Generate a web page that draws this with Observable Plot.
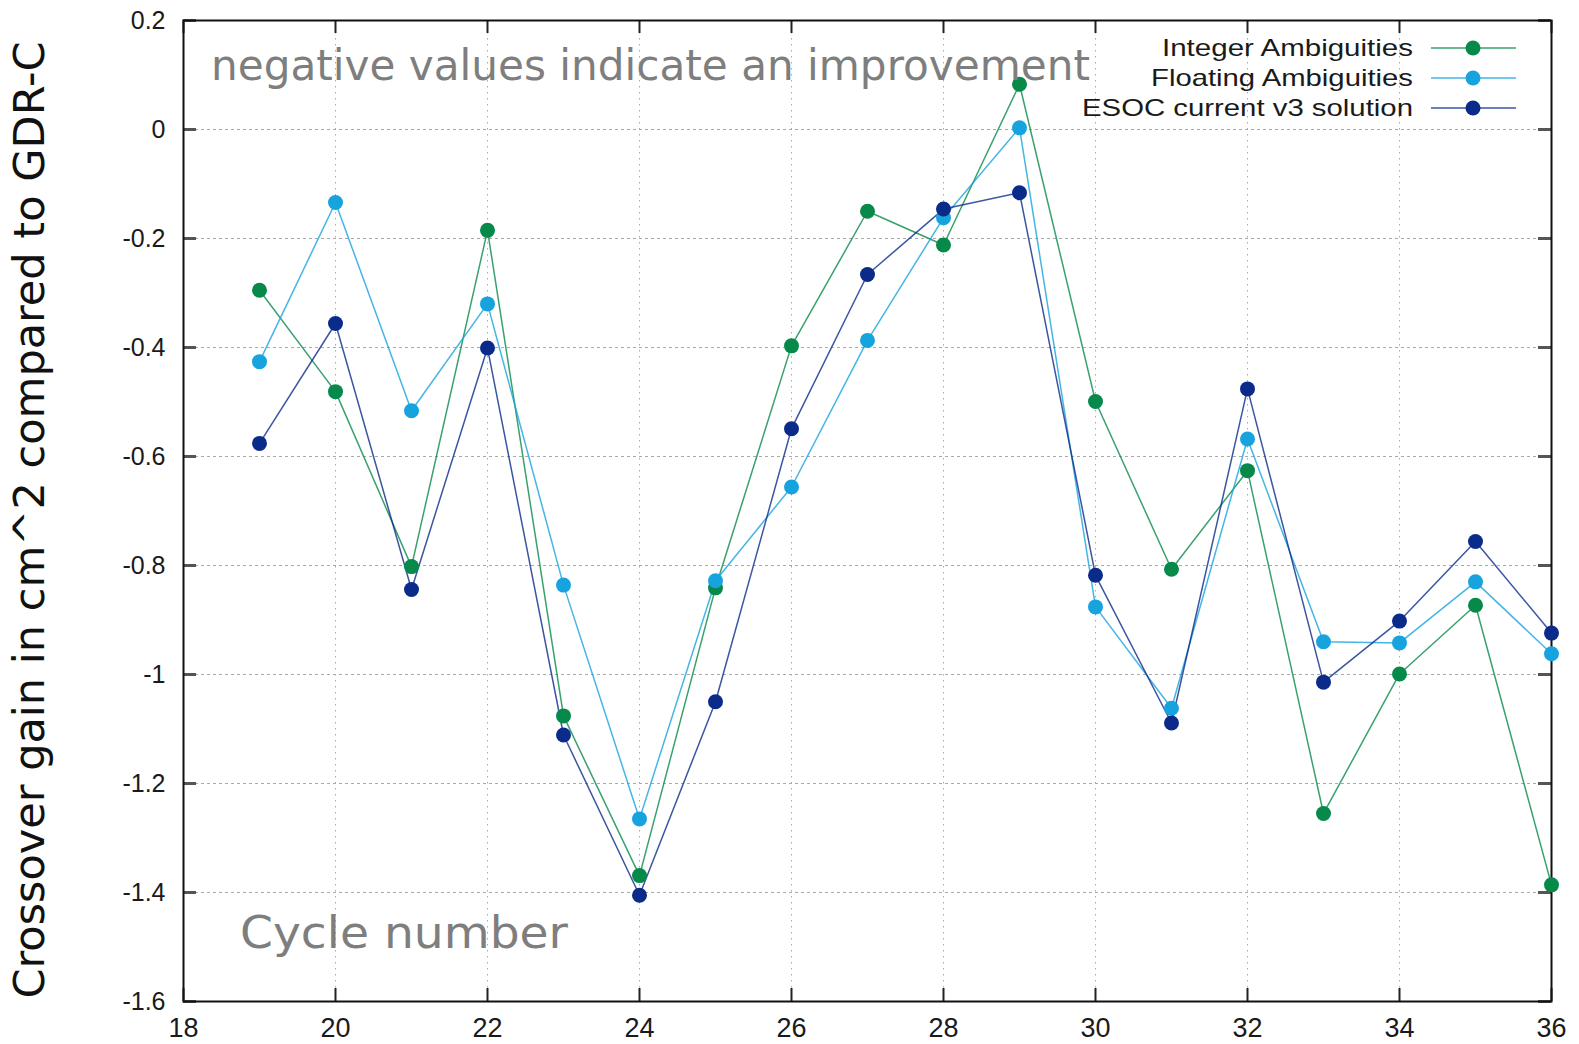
<!DOCTYPE html>
<html>
<head>
<meta charset="utf-8">
<script src="https://cdn.jsdelivr.net/npm/d3@7"></script>
<script src="https://cdn.jsdelivr.net/npm/@observablehq/plot@0.6"></script>
<style>
  html, body { margin: 0; padding: 0; background: #fff; }
  #chart { width: 1579px; height: 1044px; }
</style>
</head>
<body>
<div id="chart"></div>
<script>
// Crossover gain per cycle (cm^2) relative to GDR-C
const cycles = [19, 20, 21, 22, 23, 24, 25, 26, 27, 28, 29, 30, 31, 32, 33, 34, 35, 36];
const integerAmb  = [-0.295, -0.481, -0.802, -0.185, -1.076, -1.369, -0.841, -0.397, -0.150, -0.212, 0.083, -0.499, -0.807, -0.626, -1.255, -0.999, -0.873, -1.386];
const floatingAmb = [-0.426, -0.134, -0.516, -0.320, -0.836, -1.265, -0.828, -0.656, -0.387, -0.162, 0.003, -0.876, -1.062, -0.568, -0.940, -0.942, -0.830, -0.962];
const esocV3      = [-0.576, -0.356, -0.844, -0.401, -1.111, -1.405, -1.050, -0.549, -0.266, -0.146, -0.116, -0.818, -1.089, -0.476, -1.014, -0.902, -0.756, -0.924];

const xTicks = [18, 20, 22, 24, 26, 28, 30, 32, 34, 36];
const yTicks = [0.2, 0, -0.2, -0.4, -0.6, -0.8, -1, -1.2, -1.4, -1.6];
const yTickLabels = ["0.2", "0", "-0.2", "-0.4", "-0.6", "-0.8", "-1", "-1.2", "-1.4", "-1.6"];

const seriesNames  = ["Integer Ambiguities", "Floating Ambiguities", "ESOC current v3 solution"];
const seriesColors = ["#07894a", "#17a3de", "#0a2b8a"];

const rows = [];
[integerAmb, floatingAmb, esocV3].forEach((vals, s) =>
  vals.forEach((v, i) => rows.push({ series: seriesNames[s], cycle: cycles[i], gain: v }))
);

const W = 1579, H = 1044;
const mL = 183, mR = 28, mT = 20, mB = 43;
const innerW = W - mL - mR, innerH = H - mT - mB;
const tickLen = 13;
const dotR = 7.5;

const chart = Plot.plot({
  width: W, height: H,
  marginLeft: mL, marginRight: mR, marginTop: mT, marginBottom: mB,
  style: { fontFamily: "'Liberation Sans', Arial, sans-serif", background: "#fff", color: "#1a1a1a" },
  x: { domain: [18, 36] },
  y: { domain: [-1.6, 0.2] },
  color: { domain: seriesNames, range: seriesColors },
  marks: [
    Plot.gridY(yTicks, { stroke: "#a9a9a9", strokeOpacity: 1, strokeDasharray: "3,3" }),
    Plot.gridX(xTicks, { stroke: "#a9a9a9", strokeOpacity: 1, strokeDasharray: "1.5,4.5" }),
    // inward tick marks on all four sides
    Plot.ruleX(xTicks, { insetTop: innerH - tickLen, stroke: "#222", strokeWidth: 2 }),
    Plot.ruleX(xTicks, { insetBottom: innerH - tickLen, stroke: "#222", strokeWidth: 2 }),
    Plot.ruleY(yTicks, { insetRight: innerW - tickLen, stroke: "#555", strokeWidth: 3 }),
    Plot.ruleY(yTicks, { insetLeft: innerW - tickLen, stroke: "#555", strokeWidth: 3 }),
    Plot.frame({ stroke: "#111", strokeWidth: 2 }),
    Plot.axisX(xTicks, { tickSize: 0, tickPadding: 16, fontSize: 27, label: null, tickFormat: d => String(d) }),
    Plot.axisY(yTicks, {
      tickSize: 0, tickPadding: 18, fontSize: 25, label: null,
      tickFormat: d => yTickLabels[yTicks.findIndex(t => Math.abs(t - d) < 1e-9)]
    }),
    Plot.line(rows, { x: "cycle", y: "gain", z: "series", stroke: "series", strokeWidth: 1.5, strokeOpacity: 0.8 }),
    Plot.dot(rows, { x: "cycle", y: "gain", fill: "series", r: dotR })
  ]
});

const svg = d3.select(chart);

// vertical axis title
svg.append("text")
  .attr("transform", "translate(44,520) rotate(-90)")
  .attr("text-anchor", "middle")
  .attr("font-family", "'DejaVu Sans', sans-serif")
  .attr("font-size", 42)
  .attr("fill", "#111")
  .attr("textLength", 957)
  .attr("lengthAdjust", "spacingAndGlyphs")
  .text("Crossover gain in cm^2 compared to GDR-C");

// in-plot notes
svg.append("text")
  .attr("x", 211).attr("y", 80)
  .attr("text-anchor", "start")
  .attr("font-family", "'DejaVu Sans', sans-serif")
  .attr("font-size", 43)
  .attr("fill", "#7e7e7e")
  .attr("textLength", 879)
  .attr("lengthAdjust", "spacingAndGlyphs")
  .text("negative values indicate an improvement");

svg.append("text")
  .attr("x", 240).attr("y", 948)
  .attr("text-anchor", "start")
  .attr("font-family", "'DejaVu Sans', sans-serif")
  .attr("font-size", 45)
  .attr("fill", "#7e7e7e")
  .attr("textLength", 328)
  .attr("lengthAdjust", "spacingAndGlyphs")
  .text("Cycle number");

// key, top right
const legendWidths = [251, 262, 331];
const key = svg.append("g").attr("font-family", "'Liberation Sans', Arial, sans-serif").attr("font-size", 24);
seriesNames.forEach((name, i) => {
  const cy = 48 + i * 30;
  key.append("text")
    .attr("x", 1413).attr("y", cy + 8)
    .attr("text-anchor", "end")
    .attr("fill", "#1a1a1a")
    .attr("textLength", legendWidths[i])
    .attr("lengthAdjust", "spacingAndGlyphs")
    .text(name);
  key.append("line")
    .attr("x1", 1431).attr("x2", 1516).attr("y1", cy).attr("y2", cy)
    .attr("stroke", seriesColors[i]).attr("stroke-width", 1.5).attr("stroke-opacity", 0.8);
  key.append("circle")
    .attr("cx", 1473).attr("cy", cy).attr("r", dotR)
    .attr("fill", seriesColors[i]);
});

document.getElementById("chart").appendChild(chart);
</script>
</body>
</html>
